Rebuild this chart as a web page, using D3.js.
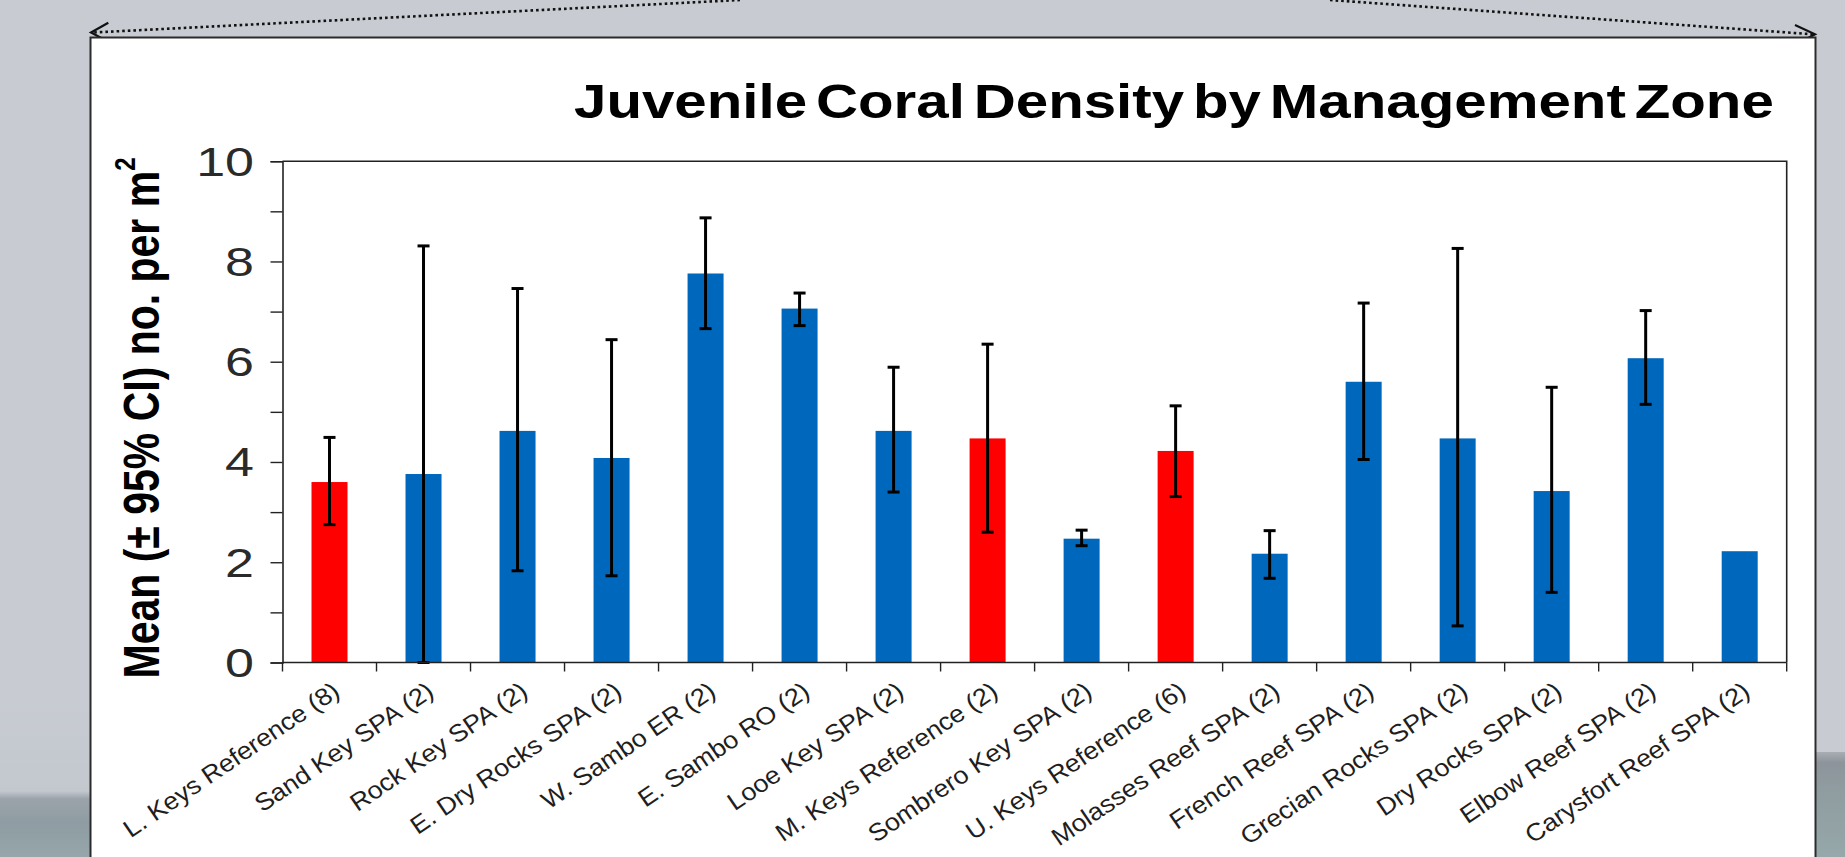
<!DOCTYPE html>
<html>
<head>
<meta charset="utf-8">
<script src="https://cdn.jsdelivr.net/npm/d3@7"></script>
<style>
  html, body { margin: 0; padding: 0; background: #c8ccd2; overflow: hidden; }
  svg { display: block; }
  text { font-family: "Liberation Sans", Arial, Helvetica, sans-serif; }
</style>
</head>
<body>
<svg id="chart" width="1845" height="857"></svg>
<script>
// Zones along the Florida Keys; the number in brackets is the number of sites
const categories = [
  "L. Keys Reference (8)", "Sand Key SPA (2)", "Rock Key SPA (2)", "E. Dry Rocks SPA (2)",
  "W. Sambo ER (2)", "E. Sambo RO (2)", "Looe Key SPA (2)", "M. Keys Reference (2)",
  "Sombrero Key SPA (2)", "U. Keys Reference (6)", "Molasses Reef SPA (2)", "French Reef SPA (2)",
  "Grecian Rocks SPA (2)", "Dry Rocks SPA (2)", "Elbow Reef SPA (2)", "Carysfort Reef SPA (2)"
];
const zoneKind = [
  "reference", "protected", "protected", "protected",
  "protected", "protected", "protected", "reference",
  "protected", "reference", "protected", "protected",
  "protected", "protected", "protected", "protected"
];
// Mean juvenile density (no. per m²) and its 95% confidence limits
const means   = [3.60, 3.76, 4.62, 4.08, 7.76, 7.06, 4.62, 4.47, 2.47, 4.22, 2.17, 5.60, 4.47, 3.42, 6.07, 2.22];
const ciLower = [2.75, 0.00, 1.83, 1.73, 6.66, 6.72, 3.40, 2.60, 2.33, 3.31, 1.68, 4.05, 0.73, 1.40, 5.15, null];
const ciUpper = [4.49, 8.31, 7.46, 6.44, 8.87, 7.37, 5.89, 6.35, 2.64, 5.12, 2.63, 7.17, 8.26, 5.49, 7.02, null];
const yTickLabels = [0, 2, 4, 6, 8, 10];
const yMinorTicks = [1, 3, 5, 7, 9];

const title = "Juvenile Coral Density by Management Zone";
const yTitle = "Mean (\u00B1 95% CI) no. per m";

const kindColor = { reference: "#ff0000", protected: "#0068bc" };

const W = 1845, H = 857;
const plot = { left: 282.5, right: 1786.7, top: 161.2, bottom: 662.5 };
const stretch = 1.23; // horizontal aspect of the slide text

const svg = d3.select("#chart");

// ---- slide background ----
const defs = svg.append("defs");
const gl = defs.append("linearGradient").attr("id", "bgLeft").attr("x1", 0).attr("y1", 0).attr("x2", 0).attr("y2", 1);
gl.append("stop").attr("offset", "0").attr("stop-color", "#c8ccd2");
gl.append("stop").attr("offset", "0.58").attr("stop-color", "#c2c8ce");
gl.append("stop").attr("offset", "0.63").attr("stop-color", "#9ba3aa");
gl.append("stop").attr("offset", "0.78").attr("stop-color", "#8f9ca3");
gl.append("stop").attr("offset", "1").attr("stop-color", "#95a6aa");
const gr = defs.append("linearGradient").attr("id", "bgRight").attr("x1", 0).attr("y1", 0).attr("x2", 0).attr("y2", 1);
gr.append("stop").attr("offset", "0").attr("stop-color", "#a9aeb4");
gr.append("stop").attr("offset", "0.1").attr("stop-color", "#8d949b");
gr.append("stop").attr("offset", "0.35").attr("stop-color", "#8f9ca0");
gr.append("stop").attr("offset", "1").attr("stop-color", "#96a8a9");

svg.append("rect").attr("width", W).attr("height", H).attr("fill", "#c8ccd2");
svg.append("rect").attr("x", 0).attr("y", 700).attr("width", 92).attr("height", 157).attr("fill", "url(#bgLeft)");
svg.append("rect").attr("x", 1815).attr("y", 752).attr("width", 30).attr("height", 105).attr("fill", "url(#bgRight)");

// ---- dotted pointer lines and arrowheads above the panel ----
const pointer = svg.append("g").attr("fill", "none").attr("stroke", "#111");
pointer.append("line").attr("x1", 740).attr("y1", 0).attr("x2", 93).attr("y2", 32.5)
  .attr("stroke-width", 2.6).attr("stroke-dasharray", "2.6,3");
pointer.append("line").attr("x1", 1330).attr("y1", 0).attr("x2", 1813).attr("y2", 34.3)
  .attr("stroke-width", 2.6).attr("stroke-dasharray", "2.6,3");

// ---- white panel ----
svg.append("rect").attr("x", 90.5).attr("y", 37.5).attr("width", 1725).attr("height", 840)
  .attr("fill", "#ffffff").attr("stroke", "#2b2b2b").attr("stroke-width", 2);

pointer.append("path").attr("d", "M108.3,22.7 L91,32.5 L108.3,41.7").attr("stroke-width", 2.2);
pointer.append("path").attr("d", "M1795,25 L1815,34.3 L1795,45").attr("stroke-width", 2.2);

// ---- scales ----
const x = d3.scaleBand()
  .domain(categories)
  .range([plot.left, plot.right])
  .paddingInner(0.617)
  .paddingOuter(0.3085);
const y = d3.scaleLinear().domain([0, 10]).range([plot.bottom, plot.top]);

const rows = categories.map((c, i) => ({
  name: c, kind: zoneKind[i], mean: means[i], lo: ciLower[i], hi: ciUpper[i]
}));

// ---- bars ----
svg.append("g").selectAll("rect").data(rows).join("rect")
  .attr("x", d => x(d.name))
  .attr("width", x.bandwidth())
  .attr("y", d => y(d.mean))
  .attr("height", d => y(0) - y(d.mean))
  .attr("fill", d => kindColor[d.kind]);

// ---- error bars ----
const eb = svg.append("g").attr("stroke", "#000").attr("stroke-width", 3).attr("fill", "none")
  .selectAll("g").data(rows.filter(d => d.lo !== null)).join("g")
  .attr("transform", d => `translate(${x(d.name) + x.bandwidth() / 2},0)`);
eb.append("line").attr("y1", d => y(d.lo)).attr("y2", d => y(d.hi));
eb.append("line").attr("x1", -6).attr("x2", 6).attr("y1", d => y(d.hi)).attr("y2", d => y(d.hi));
eb.append("line").attr("x1", -6).attr("x2", 6).attr("y1", d => y(d.lo)).attr("y2", d => y(d.lo));

// ---- plot frame (top and right edges) ----
svg.append("path")
  .attr("d", `M${plot.left},${plot.top} H${plot.right} V${plot.bottom}`)
  .attr("fill", "none").attr("stroke", "#222").attr("stroke-width", 1.6);

// ---- y axis ----
const yAxis = svg.append("g").attr("transform", `translate(${plot.left},0)`)
  .call(d3.axisLeft(y).tickValues(yTickLabels.concat(yMinorTicks)).tickSize(12).tickFormat(""));
yAxis.select(".domain").attr("stroke", "#222").attr("stroke-width", 1.6);
yAxis.selectAll(".tick line").attr("stroke", "#222").attr("stroke-width", 1.4);

svg.append("g").selectAll("g").data(yTickLabels).join("g")
  .attr("transform", d => `translate(254,${y(d)}) scale(1.3,1)`)
  .append("text")
  .attr("text-anchor", "end")
  .attr("dy", "0.36em")
  .attr("font-size", 40)
  .attr("fill", "#2a2a2a")
  .text(d => d);

// ---- x axis ----
const bandEdges = d3.range(categories.length + 1).map(i => plot.left + i * x.step());
const xAxis = svg.append("g");
xAxis.append("line").attr("x1", plot.left).attr("x2", plot.right)
  .attr("y1", plot.bottom).attr("y2", plot.bottom)
  .attr("stroke", "#222").attr("stroke-width", 1.6);
xAxis.selectAll("line.tick").data(bandEdges).join("line").attr("class", "tick")
  .attr("x1", d => d).attr("x2", d => d)
  .attr("y1", plot.bottom).attr("y2", plot.bottom + 9)
  .attr("stroke", "#222").attr("stroke-width", 1.4);

svg.append("g").selectAll("g").data(categories).join("g")
  .attr("transform", d => `translate(${x(d) + x.bandwidth() / 2 + 13},694) scale(${stretch},1)`)
  .append("text")
  .attr("transform", "rotate(-40)")
  .attr("text-anchor", "end")
  .attr("font-size", 23)
  .attr("font-style", "italic")
  .attr("fill", "#1e1e1e")
  .text(d => d);

// ---- y axis title ----
const yt = svg.append("g").attr("transform", `translate(141,418) scale(1.24,1)`)
  .append("text")
  .attr("transform", "rotate(-90)")
  .attr("text-anchor", "middle")
  .attr("dy", "0.36em")
  .attr("font-size", 41)
  .attr("font-weight", "bold")
  .attr("fill", "#000");
yt.append("tspan").text(yTitle);
yt.append("tspan").attr("font-size", 24).attr("dy", "-0.8em").text("2");

// ---- chart title ----
const tg = svg.append("g");
const tt = tg.append("text")
  .attr("font-size", 48)
  .attr("font-weight", "bold")
  .attr("word-spacing", -6)
  .attr("fill", "#000")
  .text(title);
const tw = tt.node().getComputedTextLength();
tg.attr("transform", `translate(574,118) scale(${1200 / tw},1)`);
</script>
</body>
</html>
